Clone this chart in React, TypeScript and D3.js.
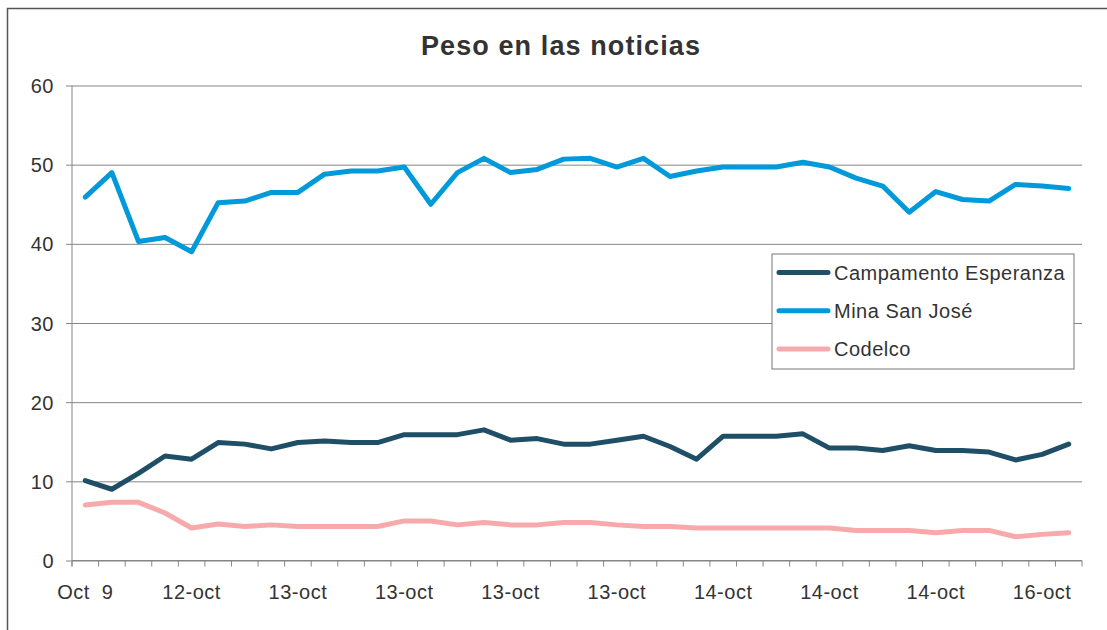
import { useEffect, useRef } from "react";
import * as d3 from "d3";

const W = 1107;
const H = 630;

const LABELS = [
  "Oct  9", "", "", "", "12-oct", "", "", "", "13-oct", "", "", "", "13-oct", "", "", "", "13-oct", "", "", "",
  "13-oct", "", "", "", "14-oct", "", "", "", "14-oct", "", "", "", "14-oct", "", "", "", "16-oct", "",
];

const CAMPAMENTO = [
  10.1, 9.0, 11.0, 13.2, 12.8, 14.9, 14.7, 14.1, 14.9, 15.1, 14.9, 14.9, 15.9, 15.9, 15.9, 16.5, 15.2, 15.4, 14.7,
  14.7, 15.2, 15.7, 14.4, 12.8, 15.7, 15.7, 15.7, 16.0, 14.2, 14.2, 13.9, 14.5, 13.9, 13.9, 13.7, 12.7, 13.4, 14.7,
];

const MINA = [
  45.9, 49.0, 40.3, 40.8, 39.0, 45.2, 45.4, 46.5, 46.5, 48.8, 49.2, 49.2, 49.7, 45.0, 49.0, 50.8, 49.0, 49.4, 50.7,
  50.8, 49.7, 50.8, 48.5, 49.2, 49.7, 49.7, 49.7, 50.3, 49.7, 48.3, 47.3, 44.0, 46.6, 45.6, 45.4, 47.5, 47.3, 47.0,
];

const CODELCO = [
  7.0, 7.35, 7.35, 6.0, 4.1, 4.6, 4.3, 4.5, 4.3, 4.3, 4.3, 4.3, 5.0, 5.0, 4.5, 4.8, 4.5, 4.5, 4.8,
  4.8, 4.5, 4.3, 4.3, 4.1, 4.1, 4.1, 4.1, 4.1, 4.1, 3.8, 3.8, 3.8, 3.5, 3.8, 3.8, 3.0, 3.3, 3.5,
];

const Y_TICKS = [0, 10, 20, 30, 40, 50, 60];

const SERIES = [
  { name: "Campamento Esperanza", values: CAMPAMENTO, color: "#1f4e67" },
  { name: "Mina San José", values: MINA, color: "#0099da" },
  { name: "Codelco", values: CODELCO, color: "#f7a9ac" },
];

const FONT = "'Liberation Sans', Arial, sans-serif";
const TEXT = "#333333";
const FS = 20;
const LS = 0.5;

export default function App() {
  const svgRef = useRef<SVGSVGElement>(null);

  useEffect(() => {
    const el = svgRef.current;
    if (!el) return;
    d3.select(el).selectAll("*").remove();
    const svg = d3.select(el);

    const m = { top: 85.5, right: 25, bottom: 69.5, left: 72 };
    const iW = W - m.left - m.right;
    const iH = H - m.top - m.bottom;

    // outer frame
    svg.append("rect")
      .attr("x", 7.5).attr("y", 8.5)
      .attr("width", W + 20).attr("height", H + 20)
      .attr("fill", "#fff").attr("stroke", "#555").attr("stroke-width", 1.5);

    svg.append("text")
      .attr("x", 561).attr("y", 55)
      .attr("text-anchor", "middle")
      .attr("font-family", FONT).attr("font-size", 27).attr("font-weight", "bold")
      .attr("letter-spacing", 1.1)
      .attr("fill", TEXT)
      .text("Peso en las noticias");

    const g = svg.append("g").attr("transform", `translate(${m.left},${m.top})`);

    const idx = d3.range(LABELS.length);
    const x = d3.scaleBand<number>().domain(idx).range([0, iW]);
    const y = d3.scaleLinear().domain([0, 60]).range([iH, 0]);
    const cx = (i: number) => (x(i) ?? 0) + x.bandwidth() / 2;

    // grid
    g.append("g")
      .call(d3.axisLeft(y).tickValues(Y_TICKS).tickSize(-iW).tickFormat(() => ""))
      .call(ax => ax.select(".domain").remove())
      .call(ax => ax.selectAll("line").attr("stroke", "#868686").attr("stroke-width", 1));

    // y axis
    g.append("g")
      .call(d3.axisLeft(y).tickValues(Y_TICKS).tickSize(6).tickPadding(12))
      .call(ax => ax.select(".domain").attr("stroke", "#868686").attr("d", `M0,${iH + 6}V0`))
      .call(ax => ax.selectAll("line").attr("stroke", "#868686"))
      .call(ax => ax.selectAll("text")
        .attr("fill", TEXT).attr("font-size", FS).attr("font-family", FONT)
        .attr("letter-spacing", LS).attr("dy", "0.35em"));

    // x axis ticks at category boundaries
    const bounds = d3.range(LABELS.length + 1).map(i => i * x.step());
    const xa = g.append("g").attr("transform", `translate(0,${iH})`);
    xa.append("line").attr("x1", 0).attr("x2", iW).attr("stroke", "#868686");
    xa.selectAll("line.tk").data(bounds).join("line")
      .attr("class", "tk")
      .attr("x1", d => d).attr("x2", d => d)
      .attr("y1", 0).attr("y2", 6)
      .attr("stroke", "#868686");
    xa.selectAll("text").data(idx.filter(i => LABELS[i] !== "")).join("text")
      .attr("x", d => cx(d)).attr("y", 38)
      .attr("text-anchor", "middle")
      .attr("font-family", FONT).attr("font-size", FS).attr("letter-spacing", LS)
      .attr("fill", TEXT)
      .style("white-space", "pre")
      .text(d => LABELS[d]);

    const line = d3.line<number>().x((_, i) => cx(i)).y(d => y(d));
    SERIES.forEach(s => {
      g.append("path").datum(s.values)
        .attr("fill", "none").attr("stroke", s.color)
        .attr("stroke-width", 5).attr("stroke-linejoin", "round").attr("stroke-linecap", "round")
        .attr("d", line);
    });

    // legend
    const lg = svg.append("g").attr("transform", "translate(772,254)");
    lg.append("rect").attr("width", 302).attr("height", 115)
      .attr("fill", "#fff").attr("stroke", "#777").attr("stroke-width", 1);
    SERIES.forEach((s, i) => {
      const yy = 18.5 + i * 38.3;
      lg.append("line").attr("x1", 7).attr("x2", 56).attr("y1", yy).attr("y2", yy)
        .attr("stroke", s.color).attr("stroke-width", 5).attr("stroke-linecap", "round");
      lg.append("text").attr("x", 62).attr("y", yy).attr("dy", "0.36em")
        .attr("font-family", FONT).attr("font-size", FS).attr("letter-spacing", LS).attr("fill", TEXT)
        .text(s.name);
    });
  }, []);

  return (
    <div style={{ position: "fixed", left: 0, top: 0, width: W, height: H, background: "#fff" }}>
      <svg ref={svgRef} width={W} height={H} style={{ display: "block" }} />
    </div>
  );
}
